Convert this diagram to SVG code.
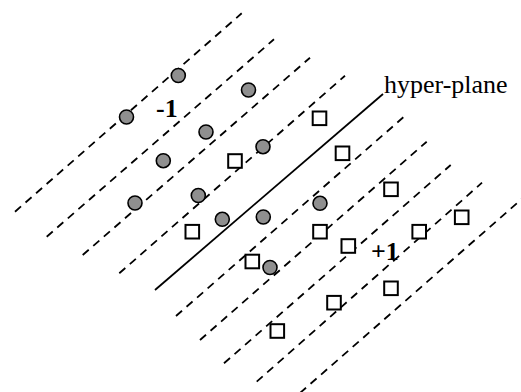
<svg xmlns="http://www.w3.org/2000/svg" width="521" height="392" viewBox="0 0 521 392">
<style>
.dash{stroke:#000;stroke-width:1.8;stroke-dasharray:8 6;fill:none}
.solid{stroke:#000;stroke-width:1.8;fill:none}
.c{fill:#8f8f8f;stroke:#000;stroke-width:1.6}
.s{fill:#fff;stroke:#000;stroke-width:2}
.lbl{font-family:"Liberation Serif","Times New Roman",serif;font-size:26px;fill:#000}
.b{font-weight:bold}
</style>
<rect width="521" height="392" fill="#fff"/>
<g id="connectors">
<line class="dash" x1="15" y1="211.7" x2="241.7" y2="13.3"/>
<line class="dash" x1="46.7" y1="236.7" x2="274" y2="39.3"/>
<line class="dash" x1="82.7" y1="255" x2="310" y2="57.7"/>
<line class="dash" x1="119.3" y1="273.3" x2="345" y2="75.7"/>
<line id="hyperplane-line" class="solid" x1="155" y1="290" x2="383" y2="94"/>
<line class="dash" x1="176" y1="316" x2="403.3" y2="117.3"/>
<line class="dash" x1="200" y1="340" x2="426.7" y2="141.7"/>
<line class="dash" x1="224" y1="363.3" x2="450.7" y2="165"/>
<line class="dash" x1="256.7" y1="381.7" x2="482" y2="182.7"/>
<line class="dash" x1="300" y1="393" x2="523" y2="198"/>
</g>
<g id="circles">
<g id="c1"><circle class="c" cx="178.3" cy="75.5" r="7"/></g>
<g id="c2"><circle class="c" cx="126.5" cy="117" r="7"/></g>
<g id="c3"><circle class="c" cx="248.5" cy="90" r="7"/></g>
<g id="c4"><circle class="c" cx="206" cy="132" r="7"/></g>
<g id="c5"><circle class="c" cx="163.3" cy="160.7" r="7"/></g>
<g id="c6"><circle class="c" cx="263" cy="146.7" r="7"/></g>
<g id="c7"><circle class="c" cx="135" cy="203" r="7"/></g>
<g id="c8"><circle class="c" cx="198.3" cy="195.5" r="7"/></g>
<g id="c9"><circle class="c" cx="222.3" cy="219.3" r="7"/></g>
<g id="c10"><circle class="c" cx="263.3" cy="217" r="7"/></g>
<g id="c11"><circle class="c" cx="320" cy="203.3" r="7"/></g>
<g id="c12"><circle class="c" cx="270" cy="267.5" r="7"/></g>
</g>
<g id="squares">
<g id="s1"><rect class="s" x="228.2" y="154.2" width="13.6" height="13.6"/></g>
<g id="s2"><rect class="s" x="185.5" y="224.9" width="13.6" height="13.6"/></g>
<g id="s3"><rect class="s" x="245.5" y="254.7" width="13.6" height="13.6"/></g>
<g id="s4"><rect class="s" x="312.7" y="111.5" width="13.6" height="13.6"/></g>
<g id="s5"><rect class="s" x="335.7" y="146.5" width="13.6" height="13.6"/></g>
<g id="s6"><rect class="s" x="313.2" y="224.9" width="13.6" height="13.6"/></g>
<g id="s7"><rect class="s" x="341.5" y="239.2" width="13.6" height="13.6"/></g>
<g id="s8"><rect class="s" x="384.2" y="182.5" width="13.6" height="13.6"/></g>
<g id="s9"><rect class="s" x="412.4" y="224.9" width="13.6" height="13.6"/></g>
<g id="s10"><rect class="s" x="454.9" y="210.5" width="13.6" height="13.6"/></g>
<g id="s11"><rect class="s" x="327.2" y="295.9" width="13.6" height="13.6"/></g>
<g id="s12"><rect class="s" x="384.2" y="281.5" width="13.6" height="13.6"/></g>
<g id="s13"><rect class="s" x="270.5" y="324.2" width="13.6" height="13.6"/></g>
</g>
<g id="labels">
<text id="hyperplane" class="lbl" x="384" y="93">hyper-plane</text>
<text id="minus1" class="lbl b" x="156" y="117">-1</text>
<text id="plus1" class="lbl b" x="371" y="260">+1</text>
</g>
</svg>
